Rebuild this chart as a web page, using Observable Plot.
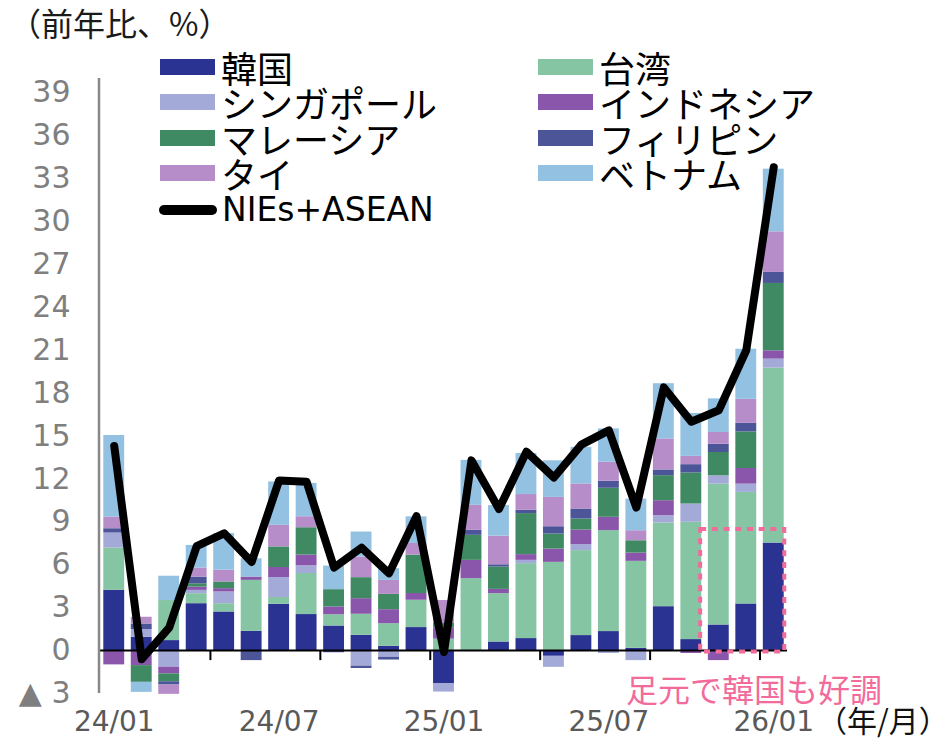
<!DOCTYPE html>
<html><head><meta charset="utf-8">
<script src="https://cdn.jsdelivr.net/npm/d3@7"></script>
<script src="https://cdn.jsdelivr.net/npm/@observablehq/plot@0.6"></script>
<style>
body{margin:0;background:#fff;}
#wrap{position:relative;width:948px;height:750px;overflow:hidden;font-family:"Noto Sans CJK JP",sans-serif;background:#fff;}
#chart{position:absolute;left:0;top:0;}
.abs{position:absolute;white-space:nowrap;}
.item{position:absolute;display:flex;align-items:center;height:34px;color:#000;white-space:nowrap;}
.item .tx{display:block;height:34px;line-height:34px;font-size:36px;overflow:visible;}
.sw{width:55px;height:16px;margin-right:6px;flex:none;}
.ln{width:58px;height:10px;border-radius:5px;background:#000;margin-right:5px;flex:none;}
#title{left:9px;top:4px;font-size:32px;line-height:36px;height:36px;color:#1a1a1a;}
#note{left:626px;top:671px;font-size:32px;line-height:34px;height:34px;color:#f26b9b;}
#unit{left:817px;top:703px;font-size:30px;line-height:32px;height:32px;color:#111;}
</style></head><body>
<div id="wrap"><div id="chart"></div>
<div id="title" class="abs">（前年比、%）</div>
<div id="legend"></div>
<div id="note" class="abs">足元で韓国も好調</div>
<div id="unit" class="abs">（年/月）</div>
</div>
<script>
// ---- data ----
const months = ["24/01","24/02","24/03","24/04","24/05","24/06","24/07","24/08","24/09","24/10","24/11","24/12",
  "25/01","25/02","25/03","25/04","25/05","25/06","25/07","25/08","25/09","25/10","25/11","25/12","26/01"];
const seriesNames = ["韓国","台湾","シンガポール","インドネシア","マレーシア","フィリピン","タイ","ベトナム"];
const seriesColors = ["#2b3392","#86c5a4","#a4aad8","#8a56ac","#3f8a62","#4b5597","#b68dc9","#92c1e1"];
const korea =       [4.22, 0.93, 0.70, 3.28, 2.70, 1.35, 3.24, 2.52, 1.72, 1.07, 0.30, 1.61, -2.30, 0.00, 0.60, 0.84, -0.40, 1.05, 1.33, 0.16, 3.07, 0.77, 1.79, 3.26, 7.52];
const taiwan =      [2.95, 0.00, 2.80, 0.70, 0.58, 3.56, 0.47, 2.87, 0.79, 1.47, 1.58, 1.91, 0.80, 5.03, 3.38, 5.24, 6.17, 5.94, 7.06, 6.08, 5.85, 8.20, 9.85, 7.80, 12.23];
const singapore =   [1.05, 0.54, -1.16, 0.23, 0.82, 0.00, 1.40, 0.54, 0.00, -1.09, -0.47, 0.00, -0.60, 0.00, 0.00, 0.23, -0.77, 0.42, -0.20, -0.70, 0.51, 1.28, 0.58, 0.58, 0.63];
const indonesia =   [-1.00, -1.05, -0.47, 0.23, 0.23, 0.23, 0.70, 0.75, 0.54, 1.09, 0.98, 0.47, 0.80, 1.28, 0.30, 0.40, 0.93, 1.02, 0.93, 0.58, 1.05, -0.20, -0.70, 1.09, 0.58];
const malaysia =    [0.00, -1.17, -0.55, 0.23, 0.47, 0.00, 1.44, 1.91, 1.21, 1.47, 1.07, 2.68, 0.30, 1.75, 1.56, 2.87, 1.05, 0.77, 2.03, 0.86, 1.75, 2.17, 1.63, 2.56, 4.71];
const philippines = [0.30, 0.39, -0.23, 0.47, 0.00, -0.70, 0.00, 0.00, -0.15, -0.16, -0.19, 0.00, 0.00, 0.35, 0.16, 0.23, 0.51, 0.70, 0.49, 0.00, 0.40, 0.58, 0.58, 0.60, 0.77];
const thailand =    [0.82, 0.47, -0.65, 0.63, 0.82, 0.00, 1.51, 0.77, 0.00, 1.44, 0.98, 0.82, 1.60, 1.75, 2.00, 1.10, 2.05, 1.75, 1.33, 0.70, 2.17, 0.58, 0.82, 1.68, 2.84];
const vietnam =     [5.70, -0.70, 1.70, 1.58, 2.56, 1.28, 3.03, 2.33, 1.65, 1.75, 0.82, 1.86, 0.00, 3.14, 2.14, 2.87, 2.56, 2.56, 2.33, 2.21, 3.86, 3.00, 2.35, 3.50, 4.38];
const total =       [14.3, -0.6, 1.6, 7.3, 8.2, 6.2, 11.9, 11.8, 5.8, 7.2, 5.4, 9.4, -0.1, 13.3, 9.9, 13.9, 12.1, 14.4, 15.4, 10.0, 18.4, 16.0, 16.8, 21.0, 33.8];
const lineName = "NIEs+ASEAN";
const yTicks = [-3, 0, 3, 6, 9, 12, 15, 18, 21, 24, 27, 30, 33, 36, 39];
const labelIndex = [0, 6, 12, 18, 24];
const tickIndex = [4, 8, 12, 16, 20, 24];
const highlight = [{x1: 21.34, x2: 24.4, y1: -0.1, y2: 8.46}];

// ---- build ----
const seriesValues = [korea, taiwan, singapore, indonesia, malaysia, philippines, thailand, vietnam];
const rows = [];
seriesNames.forEach((s, k) => seriesValues[k].forEach((v, i) => rows.push({i, series: s, value: v})));

const chart = Plot.plot({
  width: 948, height: 750,
  marginLeft: 100, marginRight: 161, marginTop: 78, marginBottom: 57,
  x: {domain: [-0.5, 24.5], axis: null},
  y: {domain: [-3, 40], axis: null},
  color: {domain: seriesNames, range: seriesColors},
  style: {fontFamily: "DejaVu Sans", background: "white"},
  marks: [
    Plot.rectY(rows, Plot.stackY({x1: d => d.i - 0.5, x2: d => d.i + 0.5, y: "value", fill: "series", insetLeft: 3.3, insetRight: 3.3})),
    Plot.ruleY([0], {stroke: "#000", strokeWidth: 2}),
    Plot.ruleX(tickIndex, {x: d => d - 0.5, y1: 0, y2: -0.7, stroke: "#000", strokeWidth: 2}),
    Plot.ruleX([-0.5], {y1: -3, y2: 40, stroke: "#888", strokeWidth: 2.5, dx: -1.5}),
    Plot.axisY({ticks: yTicks, tickSize: 0, tickPadding: 30, fontSize: 30, fill: "#7f7f7f",
      tickFormat: d => d < 0 ? "▲ " + (-d) : String(d)}),
    Plot.axisX({ticks: labelIndex, tickSize: 0, tickPadding: 18, fontSize: 28, fill: "#595959",
      tickFormat: i => months[i]}),
    Plot.rect(highlight, {x1: "x1", x2: "x2", y1: "y1", y2: "y2", fill: "none", stroke: "#f26b9b", strokeWidth: 4, strokeDasharray: "6,5.7"}),
    Plot.line(total, {x: (d, i) => i, y: d => d, stroke: "#000", strokeWidth: 8, strokeLinejoin: "round", strokeLinecap: "round"})
  ]
});
document.getElementById("chart").appendChild(chart);

// legend (overlay inside plot area)
const legend = document.getElementById("legend");
const colLeft = [160, 538];
seriesNames.forEach((s, k) => {
  const col = k % 2, row = Math.floor(k / 2);
  const el = document.createElement("div");
  el.className = "item";
  el.style.left = colLeft[col] + "px";
  el.style.top = (66.5 + row * 35.5 - 17) + "px";
  el.innerHTML = `<span class="sw" style="background:${seriesColors[k]}"></span><span class="tx">${s}</span>`;
  legend.appendChild(el);
});
const ll = document.createElement("div");
ll.className = "item";
ll.style.left = "159px";
ll.style.top = (210 - 17) + "px";
ll.innerHTML = `<span class="ln"></span><span class="tx" style="font-family:'DejaVu Sans';font-size:33px">${lineName}</span>`;
legend.appendChild(ll);
</script>
</body></html>
